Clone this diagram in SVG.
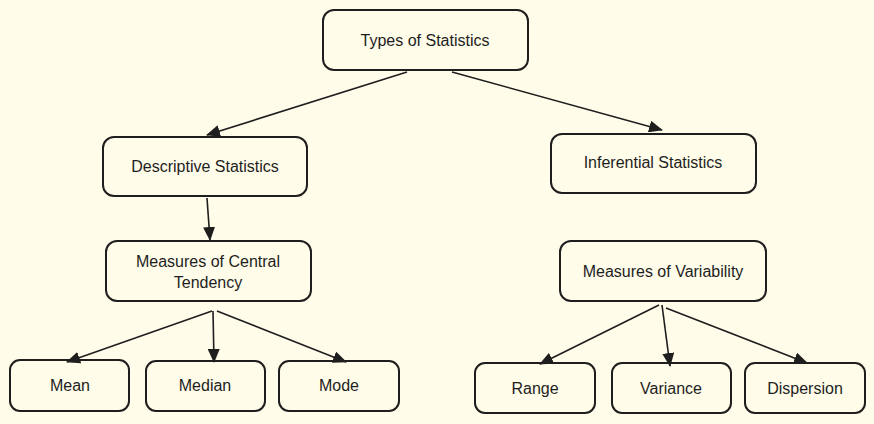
<svg xmlns="http://www.w3.org/2000/svg" width="874" height="424" viewBox="0 0 874 424">
<style>
.bg{fill:#fffce9}
.box{fill:none;stroke:#1e1e1e;stroke-width:2}
.t{font-family:"Liberation Sans","Open Sans",sans-serif;font-size:16px;fill:#1e1e1e;text-anchor:middle;dominant-baseline:central}
.c{fill:none;stroke:#1e1e1e;stroke-width:1.6}
</style>
<defs>
<marker id="ah" viewBox="0 0 14 12" refX="13" refY="6" markerWidth="14" markerHeight="12" markerUnits="userSpaceOnUse" orient="auto">
<path d="M0,0 L14,6 L0,12 z" fill="#1e1e1e"/>
</marker>
</defs>
<rect class="bg" x="0" y="0" width="874" height="424"/>
<g id="connectors">
<line class="c" x1="407" y1="72" x2="207" y2="135" marker-end="url(#ah)"/>
<line class="c" x1="452" y1="72" x2="662" y2="130" marker-end="url(#ah)"/>
<line class="c" x1="207" y1="198" x2="210" y2="240" marker-end="url(#ah)"/>
<line class="c" x1="212" y1="311" x2="67" y2="362" marker-end="url(#ah)"/>
<line class="c" x1="213" y1="311" x2="214" y2="362" marker-end="url(#ah)"/>
<line class="c" x1="217" y1="311" x2="346" y2="362" marker-end="url(#ah)"/>
<line class="c" x1="659" y1="305" x2="540" y2="364" marker-end="url(#ah)"/>
<line class="c" x1="662" y1="305" x2="670" y2="366" marker-end="url(#ah)"/>
<line class="c" x1="666" y1="308" x2="807" y2="363" marker-end="url(#ah)"/>
</g>
<g id="types"><rect class="box" x="323" y="10" width="205" height="60" rx="11"/><text class="t" x="425" y="40">Types of Statistics</text></g>
<g id="descriptive"><rect class="box" x="103" y="137" width="204" height="59" rx="11"/><text class="t" x="205" y="166">Descriptive Statistics</text></g>
<g id="inferential"><rect class="box" x="551" y="134" width="205" height="59" rx="11"/><text class="t" x="653" y="162">Inferential Statistics</text></g>
<g id="central"><rect class="box" x="106" y="241" width="205" height="60" rx="11"/><text class="t" x="208" y="261">Measures of Central</text><text class="t" x="208" y="282">Tendency</text></g>
<g id="variability"><rect class="box" x="560" y="241" width="206" height="60" rx="11"/><text class="t" x="663" y="271">Measures of Variability</text></g>
<g id="mean"><rect class="box" x="10" y="360" width="119" height="51" rx="10"/><text class="t" x="70" y="385">Mean</text></g>
<g id="median"><rect class="box" x="146" y="361" width="119" height="50" rx="10"/><text class="t" x="205" y="385">Median</text></g>
<g id="mode"><rect class="box" x="279" y="361" width="120" height="50" rx="10"/><text class="t" x="339" y="385">Mode</text></g>
<g id="range"><rect class="box" x="475" y="363" width="120" height="50" rx="10"/><text class="t" x="535" y="388">Range</text></g>
<g id="variance"><rect class="box" x="612" y="363" width="119" height="50" rx="10"/><text class="t" x="671" y="388">Variance</text></g>
<g id="dispersion"><rect class="box" x="745" y="363" width="120" height="50" rx="10"/><text class="t" x="805" y="388">Dispersion</text></g>
</svg>
